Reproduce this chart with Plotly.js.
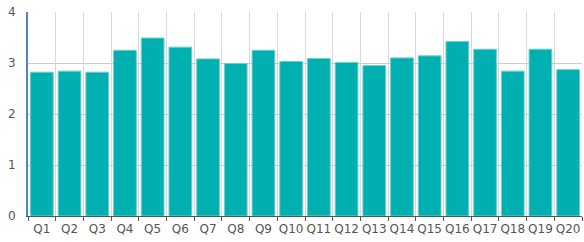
<!DOCTYPE html>
<html><head><meta charset="utf-8">
<script src="https://cdn.plot.ly/plotly-3.0.1.min.js"></script>
<style>html,body{margin:0;padding:0;background:#fff}#chart{width:584px;height:242px}</style>
</head><body><div id="chart"></div>
<script>
var categories = ["Q1","Q2","Q3","Q4","Q5","Q6","Q7","Q8","Q9","Q10","Q11","Q12","Q13","Q14","Q15","Q16","Q17","Q18","Q19","Q20"];
var values = [2.82,2.84,2.82,3.25,3.49,3.31,3.08,2.99,3.25,3.03,3.09,3.01,2.95,3.10,3.14,3.42,3.27,2.84,3.27,2.87];
var yTicks = [0,1,2,3,4];

Plotly.newPlot('chart', [{
  type: 'bar',
  x: categories,
  y: values,
  marker: {color: '#00b0b0', line: {color: '#6fcccc', width: 1}},
  hoverinfo: 'none'
}], {
  width: 584, height: 242,
  margin: {l: 28, r: 2, t: 12, b: 26, pad: 0},
  paper_bgcolor: '#fff', plot_bgcolor: '#fff',
  bargap: 0.18,
  showlegend: false,
  font: {family: 'DejaVu Sans, sans-serif', size: 12, color: '#555'},
  xaxis: {
    type: 'category',
    tickson: 'boundaries',
    tickangle: 0,
    ticks: 'outside', ticklen: 4, tickcolor: '#555',
    showgrid: true, gridcolor: '#d9d9d9', gridwidth: 1,
    showline: true, linecolor: '#555', linewidth: 1,
    tickfont: {size: 12, color: '#555'},
    ticklabelstandoff: 2,
    automargin: false
  },
  yaxis: {
    range: [0, 4],
    tickvals: yTicks,
    ticktext: yTicks.map(String),
    showgrid: true, gridcolor: '#cccccc', gridwidth: 1,
    zeroline: false,
    showline: true, linecolor: '#4a86c8', linewidth: 2,
    ticks: '', ticklabelstandoff: 8,
    tickfont: {size: 12, color: '#555'},
    automargin: false
  }
}, {staticPlot: true, displayModeBar: false});
</script></body></html>
